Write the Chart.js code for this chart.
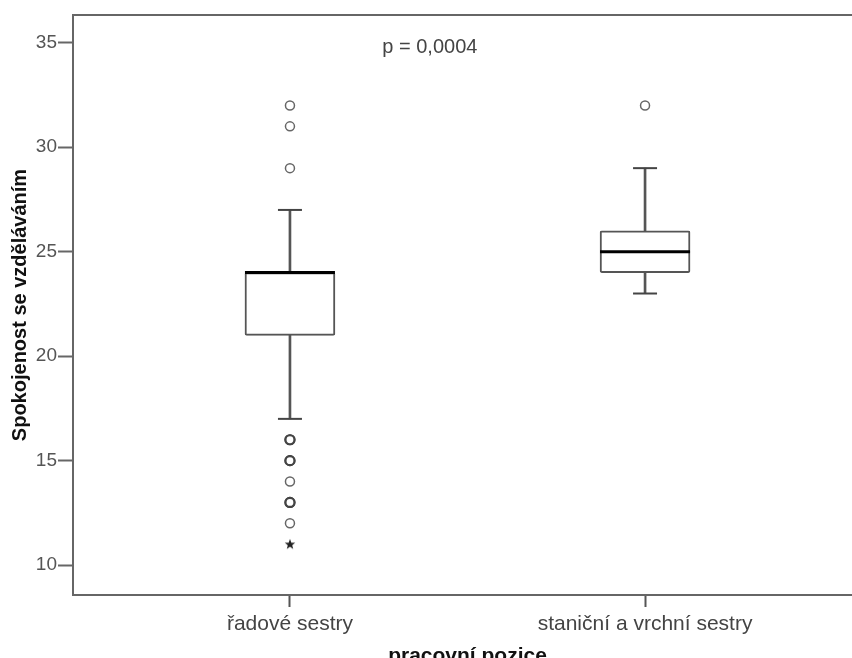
<!DOCTYPE html>
<html>
<head>
<meta charset="utf-8">
<script src="https://cdn.jsdelivr.net/npm/chart.js@4/dist/chart.umd.min.js"></script>
<style>
  html, body { margin: 0; padding: 0; background: #fff; overflow: hidden; }
  #boxChart { display: block; }
</style>
</head>
<body>
<canvas id="boxChart" width="862" height="672"></canvas>
<script>
// ===== DATA =====
const categories = ["řadové sestry", "staniční a vrchní sestry"];
const whiskerLow = [17, 23];
const q1 = [21, 24];
const median = [24, 25];
const q3 = [24, 26];
const whiskerHigh = [27, 29];
const outliers = [[32, 31, 29, 16, 16, 15, 15, 14, 13, 13, 12], [32]];
const extremes = [[11], []];
const yTicks = [10, 15, 20, 25, 30, 35];
const pLabel = "p = 0,0004";

const FONT = "'Liberation Sans', Arial, sans-serif";
const pos = categories.map((c, i) => i + 1);

// outlier points; repeated values get a heavier ring (overlapping circles)
const outlierPts = pos.flatMap((x, i) => outliers[i].map(y => ({
  x, y, n: outliers[i].filter(v => v === y).length
})));

// filled star marker for extreme values
const star = document.createElement("canvas");
star.width = 12; star.height = 12;
(() => {
  const s = star.getContext("2d");
  s.fillStyle = "#222";
  s.beginPath();
  for (let k = 0; k < 10; k++) {
    const r = k % 2 === 0 ? 5.5 : 2.3;
    const a = -Math.PI / 2 + k * Math.PI / 5;
    s.lineTo(6 + r * Math.cos(a), 6.3 + r * Math.sin(a));
  }
  s.closePath();
  s.fill();
})();

const noPad = (s) => { s.paddingTop = s.paddingBottom = s.paddingLeft = s.paddingRight = 0; };

const framePlugin = {
  id: "frame",
  afterDatasetsDraw(chart) {
    const { ctx, chartArea, scales } = chart;
    ctx.save();
    ctx.strokeStyle = "#666";
    ctx.lineWidth = 2;
    ctx.beginPath();
    ctx.moveTo(chartArea.left, chartArea.top);
    ctx.lineTo(chartArea.right, chartArea.top);
    ctx.stroke();
    ctx.fillStyle = "#444";
    ctx.font = "20px " + FONT;
    ctx.textAlign = "center";
    ctx.textBaseline = "middle";
    ctx.fillText(pLabel, scales.x.getPixelForValue(1.394), scales.y.getPixelForValue(34.76));
    ctx.restore();
  }
};

new Chart(document.getElementById("boxChart"), {
  type: "bar",
  data: {
    datasets: [
      {
        // whisker stems
        data: pos.map((x, i) => ({ x, y: [whiskerLow[i], whiskerHigh[i]] })),
        backgroundColor: "#555",
        barThickness: 2,
        grouped: false,
        order: 5
      },
      {
        // boxes
        data: pos.map((x, i) => ({ x, y: [q1[i], q3[i]] })),
        backgroundColor: "#fff",
        borderColor: "#555",
        borderWidth: 2,
        borderRadius: 2,
        borderSkipped: false,
        barThickness: 90,
        grouped: false,
        order: 4
      },
      {
        type: "scatter",
        data: pos.flatMap((x, i) => [{ x, y: whiskerLow[i] }, { x, y: whiskerHigh[i] }]),
        pointStyle: "line",
        radius: 12,
        borderColor: "#444",
        borderWidth: 2,
        order: 3
      },
      {
        type: "scatter",
        data: pos.map((x, i) => ({ x, y: median[i] })),
        pointStyle: "line",
        radius: 45,
        borderColor: "#000",
        borderWidth: 3,
        order: 2
      },
      {
        type: "scatter",
        data: outlierPts,
        pointStyle: "circle",
        radius: 4.5,
        backgroundColor: "#fff",
        borderColor: (c) => (c.raw && c.raw.n > 1 ? "#444" : "#666"),
        borderWidth: (c) => (c.raw && c.raw.n > 1 ? 2.2 : 1.5),
        order: 1
      },
      {
        type: "scatter",
        data: pos.flatMap((x, i) => extremes[i].map(y => ({ x, y }))),
        pointStyle: star,
        order: 0
      }
    ]
  },
  options: {
    responsive: false,
    animation: false,
    layout: { padding: { top: 15, left: 0, right: 0, bottom: 0 }, autoPadding: false },
    plugins: { legend: { display: false }, tooltip: { enabled: false } },
    scales: {
      x: {
        type: "linear",
        min: 0.389,
        max: 2.611,
        offset: false,
        afterFit: (s) => { s.height = 77; noPad(s); },
        afterBuildTicks: (s) => { s.ticks = pos.map(v => ({ value: v })); },
        ticks: {
          callback: (v) => categories[v - 1],
          color: "#444",
          font: { family: FONT, size: 21 },
          padding: 5,
          maxRotation: 0
        },
        grid: { offset: false, drawOnChartArea: false, tickLength: 12, tickColor: "#555", tickWidth: 2 },
        border: { color: "#666", width: 2 },
        title: {
          display: true,
          text: "pracovní pozice",
          color: "#111",
          font: { family: FONT, size: 21, weight: "bold" },
          padding: { top: 0, bottom: 3 }
        }
      },
      y: {
        min: 8.57,
        max: 36.33,
        afterFit: (s) => { s.width = 73; noPad(s); },
        afterBuildTicks: (s) => { s.ticks = yTicks.map(v => ({ value: v })); },
        ticks: { color: "#555", font: { family: FONT, size: 19 }, padding: 1 },
        grid: { drawOnChartArea: false, tickLength: 15, tickColor: "#666", tickWidth: 2 },
        border: { color: "#666", width: 2 },
        title: {
          display: true,
          text: "Spokojenost se vzděláváním",
          color: "#111",
          font: { family: FONT, size: 20, weight: "bold" },
          padding: { top: 8, bottom: 0 }
        }
      }
    }
  },
  plugins: [framePlugin]
});
</script>
</body>
</html>
